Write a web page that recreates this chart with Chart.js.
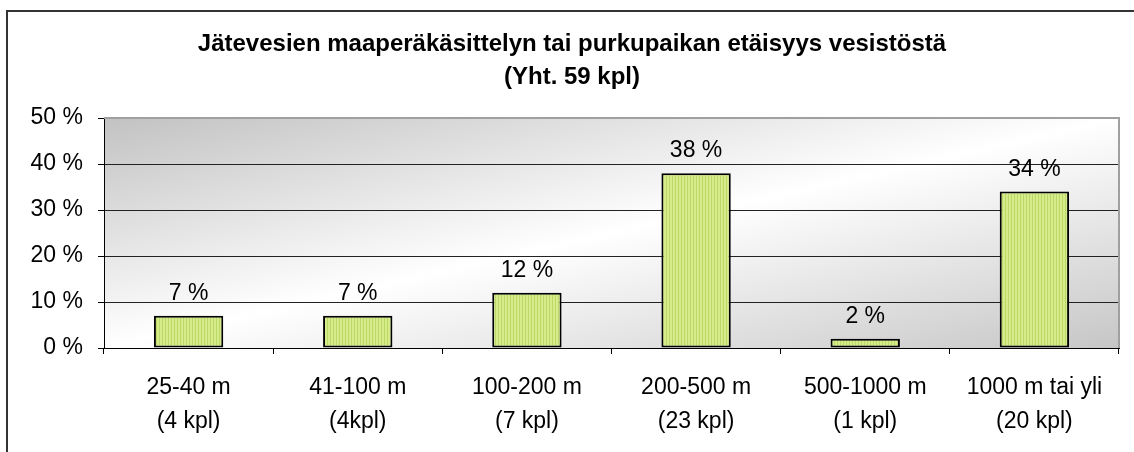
<!DOCTYPE html>
<html>
<head>
<meta charset="utf-8">
<script src="https://cdn.jsdelivr.net/npm/chart.js@4"></script>
<style>
  html, body { margin: 0; padding: 0; background: #fff; }
  #wrap { width: 1134px; height: 452px; position: relative; }
</style>
</head>
<body>
<div id="wrap"><canvas id="chart"></canvas></div>
<script>
// data
const ranges = ['25-40 m', '41-100 m', '100-200 m', '200-500 m', '500-1000 m', '1000 m tai yli'];
const counts = ['(4 kpl)', '(4kpl)', '(7 kpl)', '(23 kpl)', '(1 kpl)', '(20 kpl)'];
const shares = [7, 7, 12, 38, 2, 34];
const yTicks = [0, 10, 20, 30, 40, 50];
const titleLines = ['Jätevesien maaperäkäsittelyn tai purkupaikan etäisyys vesistöstä', '(Yht. 59 kpl)'];

const FONT = "'Liberation Sans', Arial, sans-serif";

// vihreä raidoitus pylväisiin
function stripePattern() {
    const c = document.createElement('canvas');
    c.width = 3; c.height = 4;
    const g = c.getContext('2d');
    g.fillStyle = '#d6ec8a';
    g.fillRect(0, 0, 3, 4);
    g.fillStyle = '#bcd968';
    g.fillRect(0, 0, 1, 4);
    return g.createPattern(c, 'repeat');
}

// taustan liukuväri + reunat
const plotBg = {
    id: 'plotBg',
    beforeDraw(chart) {
        const { ctx, chartArea: a } = chart;
        const w = a.right - a.left, h = a.bottom - a.top;
        const cx = a.left + w / 2, cy = a.top + h / 2;
        const n = Math.hypot(w, h);
        const ux = h / n, uy = w / n, half = w * h / n;
        const grad = ctx.createLinearGradient(cx - ux * half, cy - uy * half, cx + ux * half, cy + uy * half);
        grad.addColorStop(0, '#c2c2c2');
        grad.addColorStop(0.5, '#ffffff');
        grad.addColorStop(1, '#c6c6c6');
        ctx.save();
        ctx.fillStyle = grad;
        ctx.fillRect(a.left, a.top, w, h);
        ctx.restore();
    },
    afterDraw(chart) {
        const { ctx, chartArea: a } = chart;
        ctx.save();
        ctx.strokeStyle = '#a0a0a0';
        ctx.lineWidth = 2;
        ctx.beginPath();
        ctx.moveTo(a.left, a.top);
        ctx.lineTo(a.right, a.top);
        ctx.lineTo(a.right, a.bottom);
        ctx.stroke();
        // ulkokehys
        ctx.strokeStyle = '#333';
        ctx.lineWidth = 2;
        ctx.strokeRect(7, 11, 2000, 2000);
        ctx.restore();
    }
};

// prosenttiarvot pylväiden päälle
const valueLabels = {
    id: 'valueLabels',
    afterDatasetsDraw(chart) {
        const { ctx } = chart;
        const meta = chart.getDatasetMeta(0);
        ctx.save();
        ctx.font = '23px ' + FONT;
        ctx.fillStyle = '#000';
        ctx.textAlign = 'center';
        ctx.textBaseline = 'alphabetic';
        meta.data.forEach((bar, i) => {
            ctx.fillText(shares[i] + ' %', bar.x, bar.y - 16);
        });
        ctx.restore();
    }
};

new Chart(document.getElementById('chart'), {
    type: 'bar',
    data: {
        labels: ranges.map((r, i) => [r, counts[i]]),
        datasets: [{
            data: shares,
            backgroundColor: stripePattern(),
            borderColor: '#000',
            borderWidth: 2,
            borderSkipped: false,
            barPercentage: 0.41,
            categoryPercentage: 1
        }]
    },
    options: {
        responsive: true,
        maintainAspectRatio: false,
        animation: false,
        layout: { padding: { left: 25, right: 15, top: 0, bottom: 0 } },
        plugins: {
            legend: { display: false },
            tooltip: { enabled: false },
            title: {
                display: true,
                text: titleLines,
                color: '#000',
                font: { family: FONT, size: 24, weight: 'bold', lineHeight: 1.375 },
                padding: { top: 28, bottom: 24 }
            }
        },
        scales: {
            x: {
                grid: { drawOnChartArea: false, drawTicks: true, tickLength: 6, color: '#000', offset: true },
                border: { color: '#000', width: 1 },
                ticks: {
                    color: '#000',
                    padding: 16,
                    maxRotation: 0,
                    autoSkip: false,
                    font: { family: FONT, size: 23, lineHeight: 1.5 }
                },
                afterFit(s) { s.height = 104; }
            },
            y: {
                min: yTicks[0],
                max: yTicks[yTicks.length - 1],
                afterBuildTicks(s) { s.ticks = yTicks.map(v => ({ value: v })); },
                grid: {
                    color: c => c.tick && c.tick.value === 50 ? 'rgba(0,0,0,0)' : '#222',
                    tickColor: '#000',
                    tickLength: 6,
                    lineWidth: 1
                },
                border: { color: '#000', width: 1 },
                ticks: {
                    color: '#000',
                    padding: 15,
                    font: { family: FONT, size: 23 },
                    callback: v => v + ' %'
                },
                afterFit(s) { s.width = 79; }
            }
        }
    },
    plugins: [plotBg, valueLabels]
});
</script>
</body>
</html>
